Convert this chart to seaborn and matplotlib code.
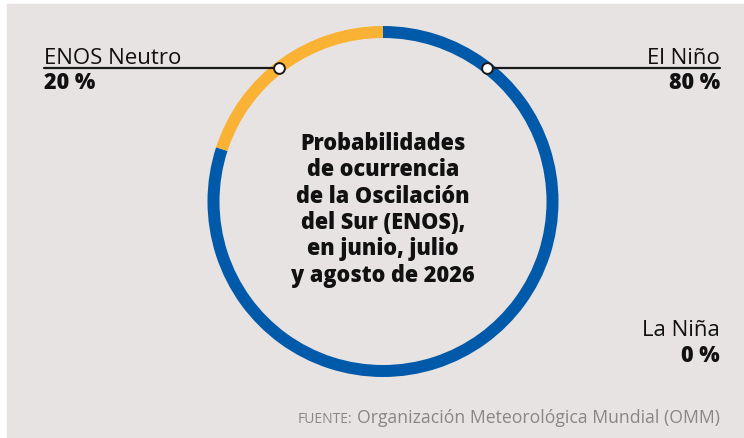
import numpy as np
import seaborn as sns
from matplotlib import pyplot as plt
from matplotlib.patches import Rectangle

# data
categories = ['El Niño', 'La Niña', 'ENOS Neutro']
probabilities = [80, 0, 20]
ring_colors = ['#005aa9', '#005aa9', '#f9b233']
title_lines = [
    'Probabilidades',
    'de ocurrencia',
    'de la Oscilación',
    'del Sur (ENOS),',
    'en junio, julio',
    'y agosto de 2026',
]
source_label = 'FUENTE:'
source_text = 'Organización Meteorológica Mundial (OMM)'

sns.set_theme(style='white')
plt.rcParams['font.family'] = ['Open Sans', 'DejaVu Sans']

W, H = 744, 439
fig = plt.figure(figsize=(W / 100, H / 100), dpi=100)
fig.patch.set_facecolor('white')
ax = fig.add_axes([0, 0, 1, 1])

bg = '#e8e3e3'
ax.add_patch(Rectangle((7, 0), W - 7, H - 5, color=bg, zorder=0))

# ring (y measured upward)
cx, cy = 383, H - 202.5
r_out, ring_w = 175.5, 12
ax.pie(probabilities, colors=ring_colors, center=(cx, cy), radius=r_out,
       startangle=90, counterclock=False, frame=True,
       wedgeprops=dict(width=ring_w, linewidth=0))
ax.set_xlim(0, W)
ax.set_ylim(0, H)
ax.set_aspect('auto')
ax.axis('off')

# leader lines with dots on the ring
line_y = H - 69
r_mid = r_out - ring_w / 2
dx = np.sqrt(r_mid ** 2 - (line_y - cy) ** 2)
ax.plot([44, cx - dx], [line_y, line_y], color='#1a1a1a', lw=1.6, zorder=3)
ax.plot([cx + dx, 720], [line_y, line_y], color='#1a1a1a', lw=1.6, zorder=3)
ax.scatter([cx - dx, cx + dx], [line_y, line_y], s=60, color='white',
           edgecolor='#1a1a1a', linewidth=1.4, zorder=4)

lab_fs, pct_fs = 16, 15.5
ax.text(44, H - 64, categories[2], fontsize=lab_fs, color='#111',
        ha='left', va='baseline')
ax.text(44, H - 89, f'{probabilities[2]} %', fontsize=pct_fs, color='#111',
        fontweight='heavy', ha='left', va='baseline')
ax.text(720, H - 64, categories[0], fontsize=lab_fs, color='#111',
        ha='right', va='baseline')
ax.text(720, H - 89, f'{probabilities[0]} %', fontsize=pct_fs, color='#111',
        fontweight='heavy', ha='right', va='baseline')
ax.text(720, H - 336, categories[1], fontsize=lab_fs, color='#111',
        ha='right', va='baseline')
ax.text(720, H - 362, f'{probabilities[1]} %', fontsize=pct_fs, color='#111',
        fontweight='heavy', ha='right', va='baseline')

# centre title
for i, line in enumerate(title_lines):
    ax.text(cx, H - 150 - i * 26.3, line, fontsize=15.6, color='#111',
            fontweight='heavy', ha='center', va='baseline')

# source
src = ax.text(720, H - 423, source_text, fontsize=12.7, color='#8a8686',
              ha='right', va='baseline')
fig.canvas.draw()
bb = src.get_window_extent()
ax.text(bb.x0 - 5, H - 423, source_label, fontsize=10, color='#8a8686',
        ha='right', va='baseline')

fig.savefig('out.png', dpi=100, facecolor=fig.get_facecolor())
